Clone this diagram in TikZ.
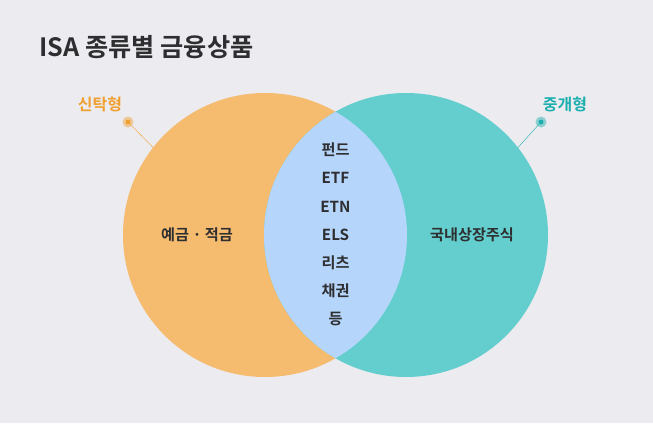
\documentclass[tikz,border=0pt]{standalone}
\usepackage{fontspec}
\setmainfont{Noto Sans CJK KR}[BoldFont=Noto Sans CJK KR Bold]
\definecolor{bgcol}{HTML}{ECEBF0}
\definecolor{orangefill}{HTML}{F5BB6F}
\definecolor{tealfill}{HTML}{63CECD}
\definecolor{lensfill}{HTML}{B5D5FB}
\definecolor{orangetxt}{HTML}{F0A030}
\definecolor{tealtxt}{HTML}{1CAFAE}
\definecolor{darktxt}{HTML}{2E2E30}
\begin{document}
\begin{tikzpicture}[x=1pt,y=-1pt,
	setc/.style={ circle, inner sep=0pt, minimum size=284pt },
	item/.style={ font=\bfseries\fontsize{15.2}{17}\selectfont, text=darktxt },
	tag/.style={ font=\bfseries\fontsize{16}{18}\selectfont },
	halo/.style={ circle, inner sep=0pt, minimum size=11pt, fill opacity=0.45 },
	dot/.style={ circle, inner sep=0pt, minimum size=5pt }
]
\useasboundingbox (0,0) rectangle (653,423);
\fill[bgcol] (0,0) rectangle (653,423);

\node[anchor=base west,font=\bfseries\fontsize{25.2}{29}\selectfont,text=darktxt] (title) at (36,56) {ISA 종류별 금융상품};

\node at (265,235) (left) [setc,fill=orangefill] {};
\node at (406,235) (right) [setc,fill=tealfill] {};
\begin{scope}
\clip (265,235) circle[radius=142pt];
\fill[lensfill] (406,235) circle[radius=142pt];
\end{scope}

% labels of the two kinds
\node at (100,104) (trust) [tag,text=orangetxt] {신탁형};
\node at (565,104) (broker) [tag,text=tealtxt] {중개형};
\node at (128,122) (trusthalo) [halo,fill=orangetxt] {};
\node at (128,122) (trustdot) [dot,fill=orangetxt] {};
\node at (541,122) (brokerhalo) [halo,fill=tealtxt] {};
\node at (541,122) (brokerdot) [dot,fill=tealtxt] {};
\draw[orangetxt,thin] (trustdot) -- (left.142);
\draw[tealtxt,thin] (brokerdot) -- (right.38);

\node at (197,235) (deposit) [item] {예금 · 적금};
\node at (472,235) (stock) [item] {국내상장주식};
\foreach \t [count=\i] in {펀드,ETF,ETN,ELS,리츠,채권,등}
	\node at (335.5,150+28.2*\i-28.2) (mid\i) [item] {\t};

\end{tikzpicture}
\end{document}
